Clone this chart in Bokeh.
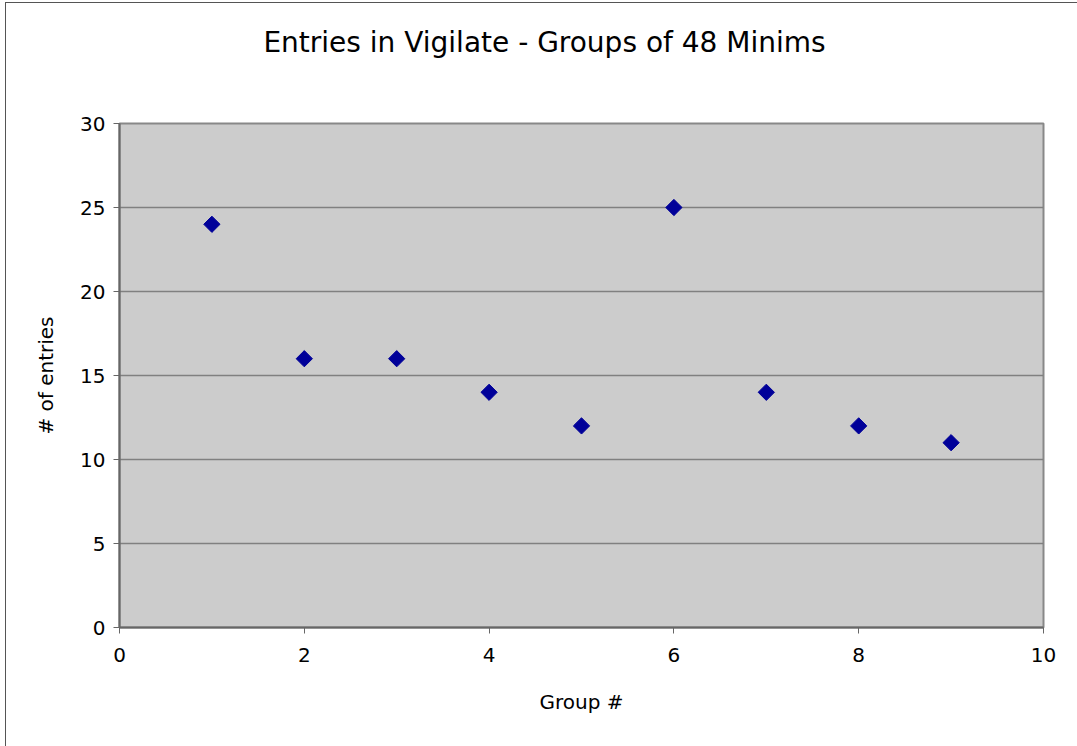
import math
from bokeh.plotting import figure
from bokeh.models import FixedTicker, Range1d, Label
from bokeh.embed import file_html
from bokeh.resources import INLINE

groups = [1, 2, 3, 4, 5, 6, 7, 8, 9]
entries = [24, 16, 16, 14, 12, 25, 14, 12, 11]
x_ticks = [0, 2, 4, 6, 8, 10]
y_ticks = [0, 5, 10, 15, 20, 25, 30]
title_text = "Entries in Vigilate - Groups of 48 Minims"

FONT = "DejaVu Sans"

p = figure(width=1072, height=744, output_backend="svg", toolbar_location=None,
           x_range=Range1d(0, 10), y_range=Range1d(0, 30),
           min_border_left=113, min_border_right=35, min_border_top=120, min_border_bottom=120,
           background_fill_color="#cccccc", border_fill_color="white")
p.styles = {"margin-left": "5px", "margin-top": "2px",
            "border-left": "1px solid #555", "border-top": "1px solid #555"}

p.outline_line_color = "#888888"
p.outline_line_width = 2

p.xgrid.visible = False
p.ygrid.grid_line_color = "#808080"
p.ygrid.grid_line_width = 1.5

for ax in (p.xaxis[0], p.yaxis[0]):
    ax.axis_line_color = "#666666"
    ax.axis_line_width = 2
    ax.major_tick_line_color = "#666666"
    ax.major_tick_in = 0
    ax.major_tick_out = 6
    ax.minor_tick_line_color = None
    ax.major_label_text_font = FONT
    ax.major_label_text_font_size = "20px"
    ax.major_label_text_color = "black"
    ax.axis_label_text_font = FONT
    ax.axis_label_text_font_size = "20px"
    ax.axis_label_text_font_style = "normal"
    ax.axis_label_text_color = "black"

p.xaxis.ticker = FixedTicker(ticks=x_ticks)
p.yaxis.ticker = FixedTicker(ticks=y_ticks)
p.xaxis.axis_label = "Group #"
p.yaxis.axis_label = "# of entries"
p.xaxis.major_label_standoff = 14
p.yaxis.major_label_standoff = 8
p.xaxis.axis_label_standoff = 25
p.yaxis.axis_label_standoff = 19

title = Label(x=425, y=81, x_units="screen", y_units="screen", text=title_text,
              text_align="center", text_baseline="middle",
              text_font=FONT, text_font_size="28px", text_color="black")
p.add_layout(title, "above")

p.scatter(groups, entries, marker="square", angle=math.pi / 4, size=11.5,
          fill_color="#000099", line_color="#000099")

open("out.html", "w").write(file_html(p, INLINE))
